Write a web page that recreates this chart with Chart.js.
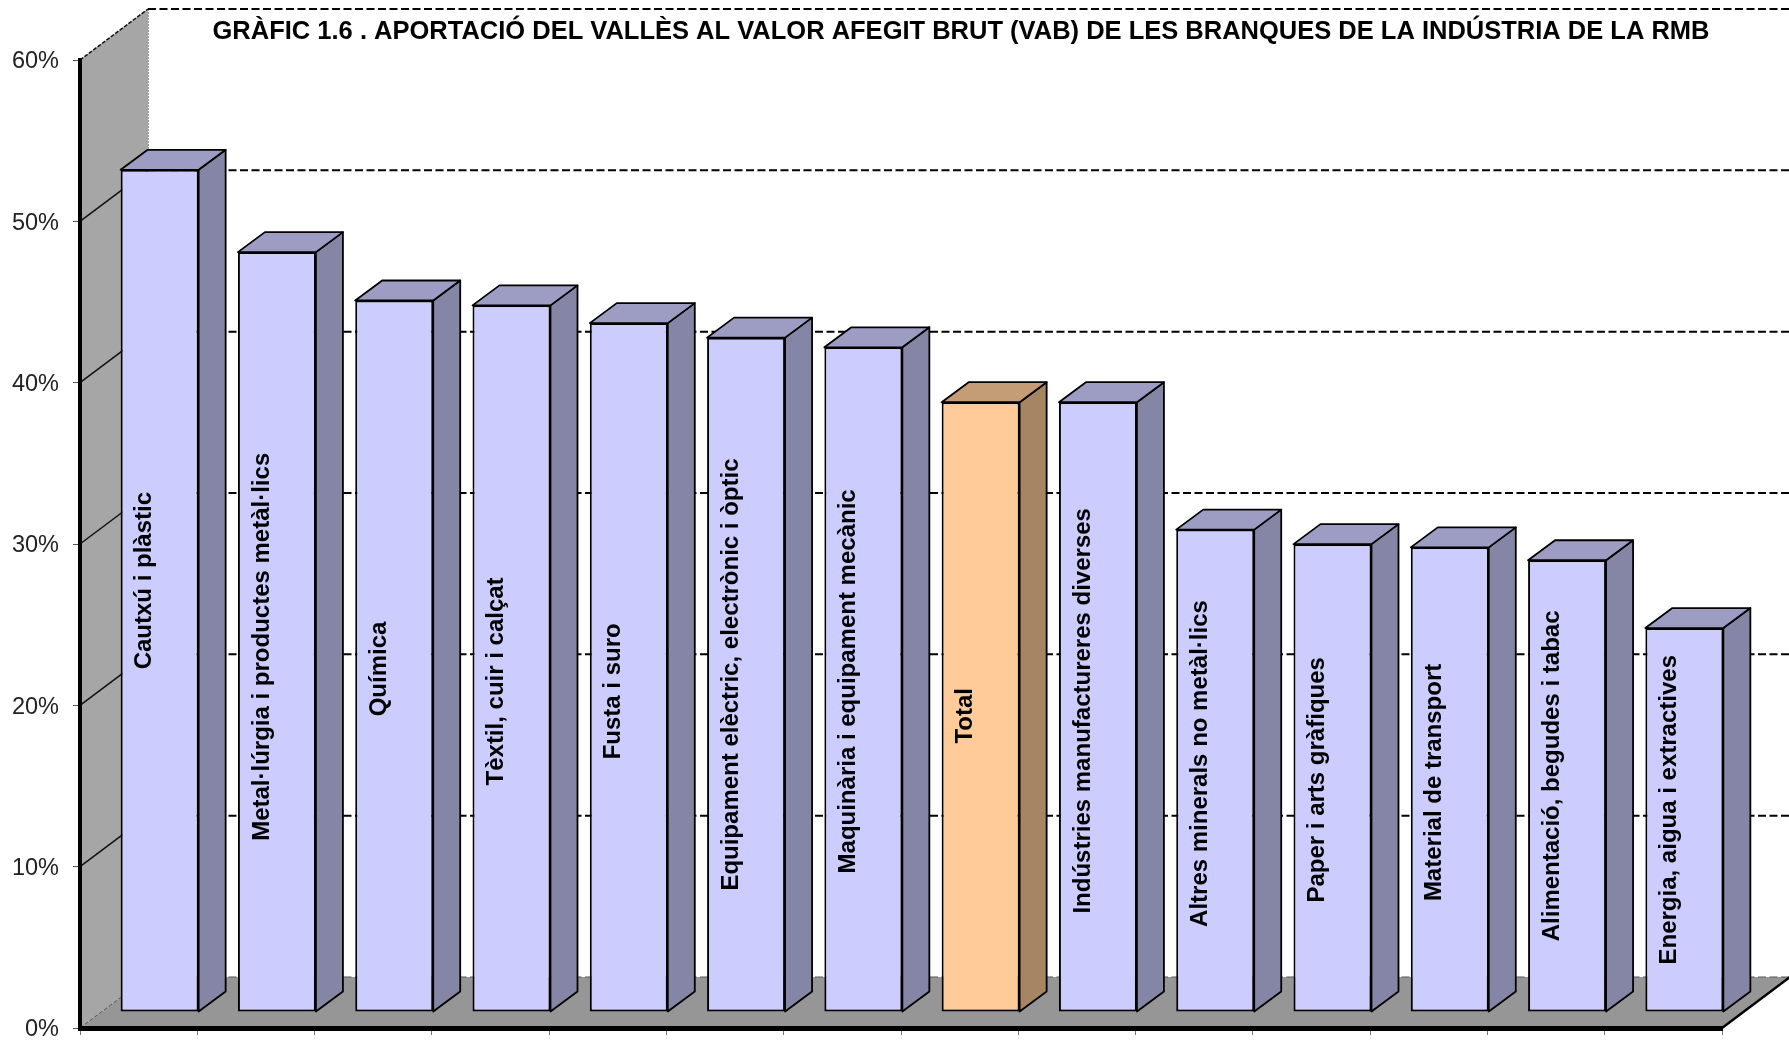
<!DOCTYPE html>
<html>
<head>
<meta charset="utf-8">
<style>html,body{margin:0;padding:0;background:#fff}canvas{display:block}</style>
<script src="https://cdn.jsdelivr.net/npm/chart.js@4"></script>
</head>
<body>
<div style="width:1789px;height:1042px;position:relative"><canvas id="c"></canvas></div>
<script>
const categories = ["Cautxú i plàstic","Metal·lúrgia i productes metàl·lics","Química","Tèxtil, cuir i calçat","Fusta i suro","Equipament elèctric, electrònic i òptic","Maquinària i equipament mecànic","Total","Indústries manufactureres diverses","Altres minerals no metàl·lics","Paper i arts gràfiques","Material de transport","Alimentació, begudes i tabac","Energia, aigua i extractives"];
const values = [52.2,47.1,44.1,43.8,42.7,41.8,41.2,37.8,37.8,29.9,29.0,28.8,28.0,23.8];
const yTicks = [0,10,20,30,40,50,60];
const titleText = "GRÀFIC 1.6 . APORTACIÓ DEL VALLÈS AL VALOR AFEGIT BRUT (VAB) DE LES BRANQUES DE LA INDÚSTRIA DE LA RMB";
const highlight = "Total";

const FONT = '"Liberation Sans", Arial, sans-serif';
const FRONT = '#CCCCFF', FRONT_HI = '#FFCC99';
const TOP = '#9D9DC4', TOP_HI = '#C49D76';
const SIDE = '#8585A6', SIDE_HI = '#A68563';
const isHi = l => l === highlight;
const BACK = {dx:68, dy:-51};       // depth of the back wall
const PLANE = {dx:21, dy:-16};      // plane the bars stand on
const BAR = {dx:27, dy:-20};        // depth of each bar
const labelNudge = [10,-15,-13,-23,-24,0,-2,-9,-4,7,-2,-3,10,10]; // label drift along the bar, px
const LABEL_DX = -15;

const scene = {
  id:'scene',
  afterLayout(chart){ chart.titleBlock.left = 200; chart.titleBlock.right = 1722; },
  beforeDraw(chart){
    const {ctx, chartArea:a, scales:{y}} = chart;
    const x0=a.left, x1=a.right, y0=a.bottom, yT=a.top;
    const bx=x0+BACK.dx, bx1=chart.width;
    ctx.save();
    ctx.fillStyle='#fff'; ctx.fillRect(0,0,chart.width,chart.height);
    // left wall
    ctx.fillStyle='#A6A6A6'; ctx.beginPath();
    ctx.moveTo(x0,yT); ctx.lineTo(bx,yT+BACK.dy); ctx.lineTo(bx,y0+BACK.dy); ctx.lineTo(x0,y0); ctx.closePath(); ctx.fill();
    // floor
    ctx.fillStyle='#969696'; ctx.beginPath();
    ctx.moveTo(x0,y0); ctx.lineTo(bx,y0+BACK.dy); ctx.lineTo(x1+BACK.dx,y0+BACK.dy); ctx.lineTo(x1,y0); ctx.closePath(); ctx.fill();
    // back wall edge
    ctx.strokeStyle='#999'; ctx.lineWidth=1; ctx.setLineDash([2,1]);
    ctx.beginPath(); ctx.moveTo(bx+.5,yT+BACK.dy); ctx.lineTo(bx+.5,y0+BACK.dy); ctx.stroke();
    // gridlines
    yTicks.forEach(v=>{
      const p=y.getPixelForValue(v);
      ctx.strokeStyle = v===0 ? '#555' : '#111';
      ctx.lineWidth = v===0 ? 1 : 1.5;
      ctx.setLineDash(v===0 ? [4,2] : (v===60 ? [4,1.5] : []));
      ctx.beginPath(); ctx.moveTo(x0,p); ctx.lineTo(bx,p+BACK.dy); ctx.stroke();
      ctx.strokeStyle = v===0 ? '#555' : '#000';
      ctx.lineWidth = v===0 ? 1 : 2;
      ctx.setLineDash([8,3.5]);
      ctx.beginPath(); ctx.moveTo(bx,p+BACK.dy); ctx.lineTo(bx1,p+BACK.dy); ctx.stroke();
    });
    ctx.setLineDash([]);
    // right floor edge
    ctx.strokeStyle='#000'; ctx.lineWidth=2.5;
    ctx.beginPath(); ctx.moveTo(x1,y0); ctx.lineTo(x1+BACK.dx,y0+BACK.dy); ctx.stroke();
    ctx.restore();
  },
  beforeDatasetsDraw(chart){
    const {ctx}=chart;
    ctx.save();
    ctx.translate(PLANE.dx,PLANE.dy);
    chart.getDatasetMeta(0).data.forEach((bar,i)=>{
      const {x,y,base,width}=bar.getProps(['x','y','base','width'],true);
      const l=x-width/2, r=x+width/2, hi=isHi(chart.data.labels[i]);
      ctx.lineWidth=1.8; ctx.strokeStyle='#000'; ctx.lineJoin='round';
      ctx.fillStyle=hi?SIDE_HI:SIDE; ctx.beginPath();
      ctx.moveTo(r,y); ctx.lineTo(r+BAR.dx,y+BAR.dy); ctx.lineTo(r+BAR.dx,base+BAR.dy); ctx.lineTo(r,base); ctx.closePath(); ctx.fill(); ctx.stroke();
      ctx.fillStyle=hi?TOP_HI:TOP; ctx.beginPath();
      ctx.moveTo(l,y); ctx.lineTo(l+BAR.dx,y+BAR.dy); ctx.lineTo(r+BAR.dx,y+BAR.dy); ctx.lineTo(r,y); ctx.closePath(); ctx.fill(); ctx.stroke();
    });
  },
  afterDatasetsDraw(chart){
    const {ctx}=chart;
    ctx.restore();
    ctx.save();
    ctx.fillStyle='#000'; ctx.font='bold 24px '+FONT; ctx.textAlign='center'; ctx.textBaseline='middle';
    chart.getDatasetMeta(0).data.forEach((bar,i)=>{
      const {x,y,base}=bar.getProps(['x','y','base'],true);
      ctx.save();
      ctx.translate(x+PLANE.dx+LABEL_DX,(y+base)/2+PLANE.dy-labelNudge[i]);
      ctx.rotate(-Math.PI/2);
      ctx.fillText(chart.data.labels[i],0,0);
      ctx.restore();
    });
    ctx.restore();
  }
};

new Chart(document.getElementById('c'),{
  type:'bar',
  data:{labels:categories,datasets:[{
    data:values,
    backgroundColor:categories.map(l=>isHi(l)?FRONT_HI:FRONT),
    borderColor:'#000',borderWidth:2,borderSkipped:false,
    barPercentage:0.665,categoryPercentage:1
  }]},
  plugins:[scene],
  options:{
    responsive:true,maintainAspectRatio:false,animation:false,
    layout:{padding:{left:0,right:67,top:0,bottom:0}},
    plugins:{
      legend:{display:false},tooltip:{enabled:false},
      title:{display:true,text:titleText,color:'#000',
        font:{family:FONT,size:25.5,weight:'bold'},padding:{top:17,bottom:12.4}}
    },
    scales:{
      x:{
        grid:{offset:true,drawOnChartArea:false,drawTicks:true,tickLength:7,tickColor:'#777'},
        border:{color:'#000',width:5},
        ticks:{display:false,autoSkip:false},
        afterFit(s){s.height=14;}
      },
      y:{
        min:0,max:60,
        grid:{drawOnChartArea:false,drawTicks:true,tickLength:7,tickColor:'#555'},
        border:{color:'#000',width:4},
        afterBuildTicks(s){s.ticks=yTicks.map(v=>({value:v}));},
        ticks:{callback:v=>v+'%',color:'#222',font:{family:FONT,size:23.5},padding:14,labelOffset:2},
        afterFit(s){s.width=80;s.paddingTop=0;s.paddingBottom=0;}
      }
    }
  }
});
</script>
</body>
</html>
